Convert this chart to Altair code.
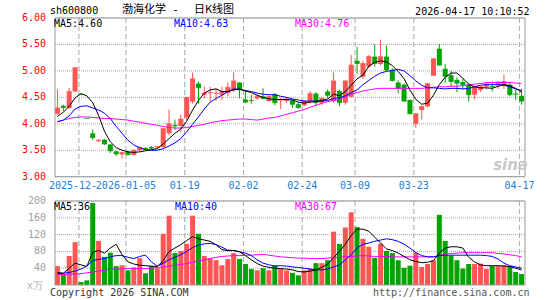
import altair as alt
import pandas as pd

# ---------------- data ----------------
opens = [4.19, 4.34, 4.30, 4.61, 4.55, 4.10, 3.82, 3.67, 3.70, 3.61,
         3.48, 3.42, 3.47, 3.41, 3.50, 3.54, 3.56, 3.55, 3.56, 3.82,
         3.98, 3.96, 4.12, 4.42, 4.76, 4.55, 4.58, 4.57, 4.55, 4.58,
         4.64, 4.78, 4.46, 4.45, 4.48, 4.52, 4.43, 4.56, 4.44, 4.43,
         4.44, 4.37, 4.35, 4.42, 4.57, 4.40, 4.61, 4.43, 4.62, 4.40,
         4.51, 5.19, 4.89, 5.08, 5.27, 5.13, 5.27, 5.02, 4.78, 4.74,
         4.45, 4.00, 4.26, 4.33, 4.91, 5.42, 5.04, 4.92, 4.83, 4.79,
         4.74, 4.55, 4.64, 4.70, 4.71, 4.73, 4.73, 4.74, 4.57, 4.53]
highs = [4.65, 4.36, 4.68, 5.06, 4.55, 4.10, 3.89, 3.71, 3.71, 3.62,
         3.49, 3.47, 3.49, 3.51, 3.57, 3.56, 3.58, 3.58, 3.91, 4.27,
         4.08, 4.17, 4.50, 4.97, 4.80, 4.70, 4.70, 4.67, 4.70, 4.78,
         4.97, 4.79, 4.64, 4.55, 4.55, 4.67, 4.53, 4.58, 4.49, 4.50,
         4.47, 4.40, 4.45, 4.62, 4.60, 4.50, 4.65, 4.97, 4.65, 4.82,
         5.30, 5.45, 5.19, 5.30, 5.50, 5.59, 5.48, 5.05, 4.82, 4.76,
         4.46, 4.20, 4.34, 4.77, 5.24, 5.51, 5.13, 5.00, 4.88, 4.85,
         4.76, 4.72, 4.72, 4.78, 4.80, 4.80, 4.93, 4.80, 4.65, 4.66]
lows = [4.17, 4.24, 4.28, 4.60, 4.55, 4.10, 3.70, 3.66, 3.60, 3.45,
        3.39, 3.34, 3.40, 3.40, 3.48, 3.50, 3.52, 3.53, 3.54, 3.78,
        3.88, 3.84, 4.07, 4.38, 4.38, 4.48, 4.42, 4.43, 4.45, 4.52,
        4.60, 4.48, 4.39, 4.38, 4.45, 4.46, 4.42, 4.35, 4.28, 4.39,
        4.30, 4.28, 4.33, 4.38, 4.33, 4.35, 4.48, 4.40, 4.33, 4.36,
        4.50, 4.95, 4.85, 5.05, 5.08, 5.10, 5.00, 4.80, 4.58, 4.41,
        4.18, 3.92, 4.08, 4.31, 4.90, 5.10, 4.77, 4.70, 4.60, 4.65,
        4.42, 4.46, 4.60, 4.65, 4.61, 4.66, 4.66, 4.52, 4.45, 4.36]
closes = [4.30, 4.31, 4.61, 5.06, 4.55, 4.10, 3.74, 3.69, 3.62, 3.49,
          3.43, 3.46, 3.42, 3.50, 3.55, 3.52, 3.54, 3.57, 3.91, 4.00,
          3.96, 4.09, 4.50, 4.85, 4.68, 4.58, 4.59, 4.58, 4.61, 4.69,
          4.81, 4.64, 4.41, 4.44, 4.52, 4.48, 4.52, 4.40, 4.46, 4.47,
          4.37, 4.31, 4.43, 4.57, 4.40, 4.48, 4.54, 4.81, 4.40, 4.81,
          5.11, 5.14, 5.14, 5.27, 5.14, 5.27, 5.02, 4.82, 4.67, 4.43,
          4.19, 4.19, 4.33, 4.76, 5.23, 5.11, 4.90, 4.80, 4.77, 4.74,
          4.55, 4.70, 4.70, 4.75, 4.70, 4.79, 4.80, 4.55, 4.56, 4.43]
ma5 = [4.14, 4.22, 4.33, 4.49, 4.57, 4.53, 4.40, 4.16, 3.86, 3.66,
       3.55, 3.50, 3.47, 3.46, 3.47, 3.49, 3.51, 3.53, 3.62, 3.72,
       3.82, 3.90, 4.05, 4.26, 4.44, 4.58, 4.64, 4.66, 4.61, 4.61,
       4.64, 4.66, 4.62, 4.59, 4.54, 4.50, 4.47, 4.46, 4.46, 4.46,
       4.45, 4.41, 4.39, 4.41, 4.42, 4.44, 4.47, 4.56, 4.53, 4.61,
       4.73, 4.85, 4.92, 5.09, 5.16, 5.19, 5.17, 5.10, 4.99, 4.85,
       4.64, 4.46, 4.37, 4.39, 4.54, 4.74, 4.88, 4.96, 4.96, 4.86,
       4.75, 4.70, 4.68, 4.68, 4.67, 4.71, 4.74, 4.72, 4.67, 4.60]
ma10 = [4.04, 4.07, 4.15, 4.28, 4.33, 4.34, 4.30, 4.26, 4.20, 4.10,
        3.95, 3.82, 3.69, 3.60, 3.55, 3.51, 3.50, 3.50, 3.53, 3.58,
        3.64, 3.72, 3.85, 3.99, 4.13, 4.28, 4.41, 4.48, 4.54, 4.61,
        4.66, 4.65, 4.63, 4.61, 4.58, 4.56, 4.55, 4.55, 4.52, 4.50,
        4.47, 4.45, 4.43, 4.43, 4.43, 4.43, 4.44, 4.48, 4.49, 4.53,
        4.59, 4.64, 4.74, 4.82, 4.90, 4.96, 4.99, 5.01, 5.03, 5.00,
        4.91, 4.81, 4.73, 4.68, 4.68, 4.67, 4.66, 4.67, 4.67, 4.66,
        4.67, 4.70, 4.73, 4.74, 4.74, 4.74, 4.73, 4.70, 4.66, 4.63]
ma30 = [4.04, 4.07, 4.10, 4.12, 4.13, 4.13, 4.12, 4.11, 4.10, 4.10,
        4.09, 4.08, 4.07, 4.05, 4.03, 4.01, 3.99, 3.97, 3.95, 3.93,
        3.92, 3.92, 3.93, 3.95, 3.97, 3.99, 4.02, 4.04, 4.06, 4.07,
        4.08, 4.09, 4.09, 4.08, 4.07, 4.09, 4.11, 4.12, 4.15, 4.18,
        4.21, 4.24, 4.27, 4.31, 4.35, 4.39, 4.42, 4.44, 4.46, 4.51,
        4.56, 4.59, 4.62, 4.64, 4.66, 4.67, 4.67, 4.67, 4.67, 4.67,
        4.67, 4.67, 4.67, 4.68, 4.69, 4.70, 4.70, 4.71, 4.71, 4.72,
        4.74, 4.75, 4.76, 4.78, 4.78, 4.78, 4.78, 4.78, 4.77, 4.76]
volumes = [45, 25, 69, 102, 7, 11, 195, 105, 67, 77,
           45, 47, 35, 42, 64, 28, 45, 40, 122, 165,
           76, 81, 98, 165, 122, 69, 64, 59, 47, 62,
           76, 62, 50, 38, 35, 40, 35, 47, 39, 35,
           29, 23, 35, 39, 52, 52, 59, 127, 98, 137,
           173, 138, 110, 91, 65, 98, 81, 76, 59, 41,
           46, 77, 43, 50, 59, 167, 105, 70, 59, 39,
           50, 50, 51, 38, 45, 45, 47, 45, 31, 26]
vma5 = [30, 28, 40, 52, 48, 44, 78, 82, 76, 88,
        97, 72, 55, 50, 47, 46, 45, 44, 58, 80,
        88, 96, 106, 115, 110, 107, 104, 96, 84, 82,
        82, 79, 70, 60, 51, 45, 42, 40, 39, 38,
        36, 32, 31, 33, 36, 42, 50, 65, 80, 97,
        118, 133, 133, 128, 114, 100, 86, 82, 76, 68,
        60, 56, 53, 54, 58, 76, 88, 91, 91, 88,
        66, 55, 48, 46, 46, 46, 45, 44, 40, 36]
vma10 = [27, 28, 30, 33, 38, 45, 58, 61, 63, 67,
         70, 70, 66, 63, 68, 71, 55, 45, 52, 60,
         66, 72, 80, 89, 95, 98, 99, 96, 90, 83,
         82, 79, 76, 70, 60, 52, 48, 45, 46, 45,
         43, 42, 40, 38, 36, 36, 38, 43, 48, 60,
         72, 88, 97, 100, 104, 107, 110, 108, 104, 97,
         88, 77, 70, 67, 67, 70, 71, 71, 71, 71,
         71, 71, 71, 70, 68, 62, 52, 46, 43, 40]
vma30 = [25, 25, 26, 26, 27, 29, 31, 33, 35, 37,
         38, 38, 39, 39, 39, 39, 40, 42, 43, 45,
         47, 49, 51, 54, 57, 60, 63, 66, 68, 69,
         70, 70, 71, 71, 72, 73, 71, 69, 67, 66,
         65, 64, 64, 63, 63, 63, 64, 65, 66, 67,
         68, 69, 70, 69, 68, 68, 68, 67, 67, 67,
         67, 67, 67, 67, 67, 70, 73, 75, 76, 77,
         77, 77, 77, 77, 77, 75, 74, 72, 70, 67]

date_idx = [4, 12, 22, 32, 42, 51, 61, 79]
date_labels = ["2025-12-", "2026-01-05", "01-19", "02-02", "02-24", "03-09", "03-23", "04-17"]
price_ticks = [3.0, 3.5, 4.0, 4.5, 5.0, 5.5, 6.0]
vol_ticks = [40, 80, 120, 160, 200]

stock_code = "sh600800"
title_name = "渤海化学"
title_kind = "日K线图"
stamp_text = "2026-04-17 10:10:52"

# ---------------- styling ----------------
MONO = "DejaVu Sans Mono"
CJK = "Noto Sans CJK SC"
UP = "#ff5555"
DOWN = "#00a400"
BLUE = "#0000ff"
MAGENTA = "#ff00ff"
DATE_BLUE = "#1a80d8"
GRID = "#a8a8a8"
BORDER = "#999999"

N = len(closes)
df = pd.DataFrame({
    "i": list(range(N)), "open": opens, "high": highs, "low": lows, "close": closes,
    "ma5": ma5, "ma10": ma10, "ma30": ma30,
    "vol": volumes, "vma5": vma5, "vma10": vma10, "vma30": vma30,
})
df["dir"] = ["up" if c > o else "down" for o, c in zip(opens, closes)]

X_LO, X_HI = -0.4167, N - 0.4167
XS = alt.Scale(domain=[X_LO, X_HI], nice=False, zero=False)
PS = alt.Scale(domain=[0.953, 6.0], nice=False, zero=False)
VS = alt.Scale(domain=[0, 635.7], nice=False)
X = alt.X("i:Q", scale=XS, axis=None)
COLOR = alt.Color("dir:N", scale=alt.Scale(domain=["up", "down"], range=[UP, DOWN]), legend=None)

base = alt.Chart(df)

gdf = pd.DataFrame({"idx": date_idx, "ptop": 6.0, "pbot": 3.0, "vtop": 200, "vbot": 0})
bdf = pd.DataFrame({"x0": [X_LO], "x1": [X_HI], "ptop": [6.0], "pbot": [3.0], "vtop": [200], "vbot": [0]})
ptdf = pd.DataFrame({"v": price_ticks, "lab": [f"{v:.2f}" for v in price_ticks], "x0": X_LO, "x1": X_HI})
vtdf = pd.DataFrame({"v": vol_ticks, "lab": [str(v) for v in vol_ticks], "x0": X_LO, "x1": X_HI})

# ---- price panel ----
p_hgrid = alt.Chart(ptdf).mark_rule(strokeDash=[1, 1], color=GRID).encode(
    x=alt.X("x0:Q", scale=XS, axis=None), x2="x1:Q", y=alt.Y("v:Q", scale=PS, axis=None))
p_lab = alt.Chart(ptdf).mark_text(align="right", baseline="middle", font=MONO, fontSize=10,
                                  color="#ff0000", dx=-4).encode(
    x=alt.value(0), y=alt.Y("v:Q", axis=None), text="lab:N")
p_grid = alt.Chart(gdf).mark_rule(strokeDash=[5, 3], color=GRID, xOffset=-2).encode(
    x=alt.X("idx:Q", scale=XS, axis=None), y=alt.Y("ptop:Q", axis=None), y2="pbot:Q")
wick = base.mark_rule(strokeWidth=1).encode(x=X, y=alt.Y("low:Q", axis=None), y2="high:Q", color=COLOR)
body = base.mark_bar(size=5).encode(x=X, y=alt.Y("open:Q", axis=None), y2="close:Q", color=COLOR)
ctick = base.mark_tick(thickness=1, size=5, orient="horizontal").encode(
    x=X, y=alt.Y("close:Q", axis=None), color=COLOR)
l5 = base.mark_line(color="black", strokeWidth=1).encode(x=X, y=alt.Y("ma5:Q", axis=None))
l10 = base.mark_line(color=BLUE, strokeWidth=1).encode(x=X, y=alt.Y("ma10:Q", axis=None))
l30 = base.mark_line(color=MAGENTA, strokeWidth=1).encode(x=X, y=alt.Y("ma30:Q", axis=None))
p_border = alt.Chart(bdf).mark_rect(fill="white", fillOpacity=0, stroke=BORDER, strokeWidth=1).encode(
    x=alt.X("x0:Q", scale=XS, axis=None), x2="x1:Q", y=alt.Y("ptop:Q", axis=None), y2="pbot:Q")
price = alt.layer(p_hgrid, p_grid, wick, body, ctick, l30, l10, l5, p_border, p_lab)

# ---- volume panel ----
v_hgrid = alt.Chart(vtdf).mark_rule(strokeDash=[1, 1], color=GRID).encode(
    x=alt.X("x0:Q", scale=XS, axis=None), x2="x1:Q", y=alt.Y("v:Q", scale=VS, axis=None))
v_lab = alt.Chart(vtdf).mark_text(align="right", baseline="middle", font=MONO, fontSize=10,
                                  color="#a0a0a0", dx=-4).encode(
    x=alt.value(0), y=alt.Y("v:Q", axis=None), text="lab:N")
v_grid = alt.Chart(gdf).mark_rule(strokeDash=[5, 3], color=GRID, xOffset=-2).encode(
    x=alt.X("idx:Q", scale=XS, axis=None), y=alt.Y("vtop:Q", axis=None), y2="vbot:Q")
vbar = base.mark_bar(size=5).encode(x=X, y=alt.Y("vol:Q", axis=None), color=COLOR)
v5 = base.mark_line(color="black", strokeWidth=1).encode(x=X, y=alt.Y("vma5:Q", axis=None))
v10 = base.mark_line(color=BLUE, strokeWidth=1).encode(x=X, y=alt.Y("vma10:Q", axis=None))
v30 = base.mark_line(color=MAGENTA, strokeWidth=1).encode(x=X, y=alt.Y("vma30:Q", axis=None))
v_border = alt.Chart(bdf).mark_rect(fill="white", fillOpacity=0, stroke=BORDER, strokeWidth=1).encode(
    x=alt.X("x0:Q", scale=XS, axis=None), x2="x1:Q", y=alt.Y("vtop:Q", axis=None), y2="vbot:Q")
volume = alt.layer(v_hgrid, v_grid, vbar, v30, v10, v5, v_border, v_lab)


# ---- texts ----
def label(text, x, y, color, align="left", size=10, font=MONO, **kw):
    return alt.Chart(pd.DataFrame({"t": [text]})).mark_text(
        align=align, baseline="middle", font=font, fontSize=size, color=color, **kw
    ).encode(x=alt.value(x), y=alt.value(y), text="t:N")


ddf = pd.DataFrame({"idx": date_idx[1:], "label": date_labels[1:]})
dates = alt.Chart(ddf).mark_text(color=DATE_BLUE, font=MONO, fontSize=10, baseline="middle",
                                 align="center", xOffset=-2).encode(
    x=alt.X("idx:Q", scale=XS, axis=None), y=alt.value(168), text="label:N")
ddf0 = pd.DataFrame({"idx": date_idx[:1], "label": date_labels[:1]})
dates0 = alt.Chart(ddf0).mark_text(color=DATE_BLUE, font=MONO, fontSize=10, baseline="middle",
                                   align="left", xOffset=-32).encode(
    x=alt.X("idx:Q", scale=XS, axis=None), y=alt.value(168), text="label:N")

texts = [
    label(stock_code, 0, -7.5, "black"),
    label(title_name, 72, -8, "black", size=11, font=CJK),
    label("-", 125.5, -8, "black", align="center", size=11, font=MONO),
    label(title_kind, 144, -8, "black", size=11, font=CJK),
    label(stamp_text, 479.5, -6.5, "black", align="right"),
    label(f"MA5:{ma5[-1]:.2f}", 4, 6, "black"),
    label(f"MA10:{ma10[-1]:.2f}", 124, 6, BLUE),
    label(f"MA30:{ma30[-1]:.2f}", 245, 6, MAGENTA),
    label(f"MA5:{vma5[-1]:.0f}", 4, 189, "black"),
    label(f"MA10:{vma10[-1]:.0f}", 125, 189, BLUE),
    label(f"MA30:{vma30[-1]:.0f}", 245, 189, MAGENTA),
    label("x万", -7, 268, "#b0b0b0", align="right"),
    label("Copyright 2026 SINA.COM", 0, 274.5, "#333333"),
    label("http://finance.sina.com.cn", 479.5, 274.5, "#555555", align="right"),
    label("sina", 478, 147, "#c8c8c8", align="right", size=15, font="DejaVu Sans",
          fontStyle="italic", fontWeight="bold"),
    dates0, dates,
]

chart = alt.layer(price, volume, *texts).resolve_scale(y="independent").properties(
    width=480, height=267,
    padding={"left": 50, "top": 18, "right": 15, "bottom": 15},
    autosize=alt.AutoSizeParams(type="none"),
).configure_view(stroke=None)

chart.save("out.html", embed_options={"renderer": "svg", "actions": False})
